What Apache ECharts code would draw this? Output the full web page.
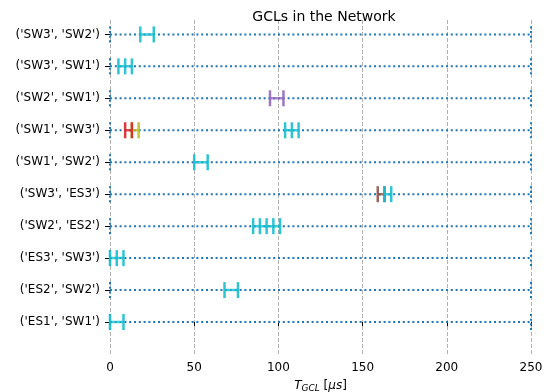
<!DOCTYPE html>
<html>
<head>
<meta charset="utf-8">
<script src="https://cdn.jsdelivr.net/npm/echarts@6/dist/echarts.min.js"></script>
<style>html,body{margin:0;padding:0;background:#fff;}#c{width:555px;height:392px;}</style>
</head>
<body>
<div id="c"></div>
<script>
// Links (bottom to top)
const categories = ["('ES1', 'SW1')", "('ES2', 'SW2')", "('ES3', 'SW3')", "('SW2', 'ES2')", "('SW3', 'ES3')",
  "('SW1', 'SW2')", "('SW1', 'SW3')", "('SW2', 'SW1')", "('SW3', 'SW1')", "('SW3', 'SW2')"];
const xTicks = [0, 50, 100, 150, 200, 250];
const hyperPeriod = [0, 250];
// gate events: [row index, times]
const cyanGates = [[0, [0, 8]], [1, [68, 76]], [2, [0, 4, 8]], [3, [85, 89, 93, 97, 101]], [4, [163, 167]],
  [5, [50, 58]], [6, [104, 108, 112]], [8, [5, 9, 13]], [9, [18, 26]]];
const redGates = [[6, [9, 13]]];
const oliveGates = [[6, [13, 17]]];
const purpleGates = [[7, [95, 103]]];
const brownGates = [[4, [159, 163]]];

const dotSym = 'path://M0,0h2v2h-2z M0,4.5h2v2h-2z M0,9h2v2h-2z M0,13.5h2v2h-2z';
const series = [];
categories.forEach((c, i) => {
  series.push({
    type: 'line', data: hyperPeriod.map(t => [t, i]), symbol: dotSym, symbolSize: [2, 16], showSymbol: true,
    itemStyle: { color: '#1f77b4' }, lineStyle: { color: '#1f77b4', width: 2, type: [2, 2.8] },
    z: 2, silent: true, animation: false
  });
});
function addGates(list, color, z) {
  list.forEach(([row, times]) => {
    series.push({
      type: 'line', data: times.map(t => [t, row]), symbol: 'rect', symbolSize: [2.5, 16], showSymbol: true,
      itemStyle: { color: color, opacity: 0.9 }, lineStyle: { color: color, width: 2.5, opacity: 0.8 },
      z: z, silent: true, animation: false
    });
  });
}
addGates(oliveGates, '#bcbd22', 3);
addGates(brownGates, '#8c564b', 3);
addGates(purpleGates, '#9467bd', 3);
addGates(cyanGates, '#17becf', 4);
addGates(redGates, '#d62728', 5);

const chart = echarts.init(document.getElementById('c'), null, { renderer: 'canvas' });
chart.setOption({
  animation: false,
  title: {
    text: 'GCLs in the Network', left: 319, top: 5, textAlign: 'center',
    textStyle: { fontFamily: 'DejaVu Sans', fontSize: 14, fontWeight: 'normal', color: '#000' }
  },
  grid: { left: 110, right: 24, top: 20, bottom: 38, containLabel: false, outerBoundsMode: 'none' },
  xAxis: {
    type: 'value', min: 0, max: 250, interval: 50,
    axisLine: { show: false },
    axisTick: { show: true, length: 4, lineStyle: { color: '#000', width: 1 } },
    axisLabel: { fontFamily: 'DejaVu Sans', fontSize: 12, color: '#000', margin: 8,
      customValues: xTicks },
    splitLine: { show: true, lineStyle: { color: '#b0b0b0', type: [4, 2], width: 1 } },
    name: '{i|T}{s|GCL} [{i|μs}]', nameLocation: 'middle', nameGap: 24,
    nameTextStyle: { fontFamily: 'DejaVu Sans', fontSize: 12, color: '#000',
      rich: { i: { fontFamily: 'DejaVu Sans', fontStyle: 'italic', fontSize: 12, color: '#000' },
              s: { fontFamily: 'DejaVu Sans', fontStyle: 'italic', fontSize: 9, color: '#000', verticalAlign: 'bottom', padding: [6, 0, 0, 0] } } }
  },
  yAxis: {
    type: 'value', min: -1, max: 9.45,
    axisLine: { show: false },
    axisTick: { show: true, length: 5, lineStyle: { color: '#000' }, customValues: categories.map((c, i) => i) },
    axisLabel: { fontFamily: 'DejaVu Sans', fontSize: 12, color: '#000', margin: 10,
      customValues: categories.map((c, i) => i),
      formatter: v => categories[Math.round(v)] || '' },
    splitLine: { show: false }
  },
  series: series
});
</script>
</body>
</html>
